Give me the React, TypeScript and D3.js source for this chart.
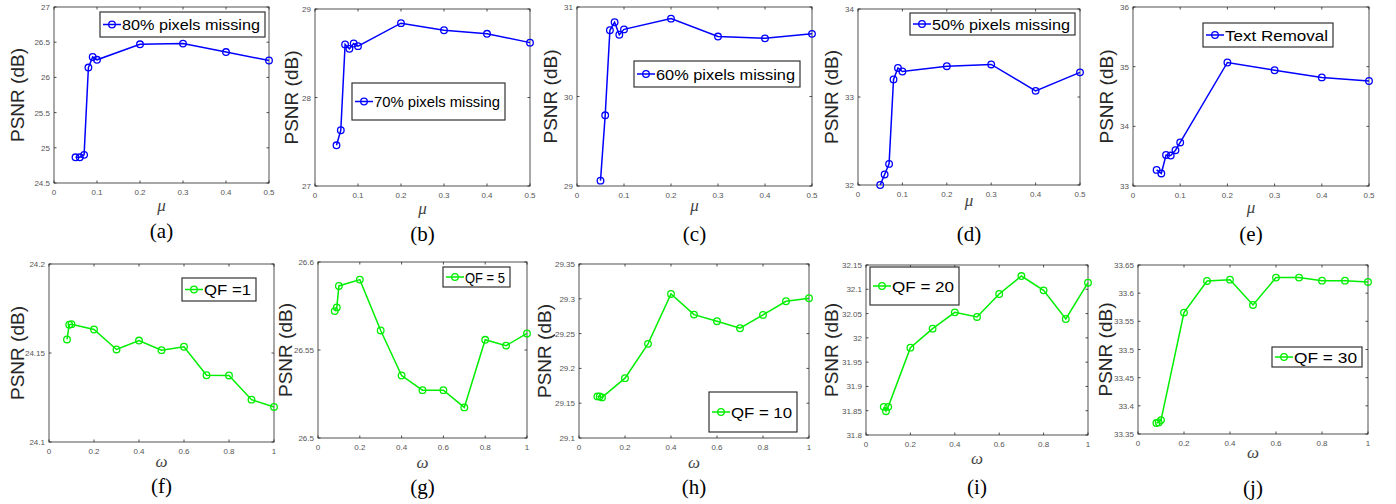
import React from 'react';
import * as d3 from 'd3';

// mu sweep (top row)
const muValues = [0.05, 0.06, 0.07, 0.08, 0.09, 0.1, 0.2, 0.3, 0.4, 0.5];
const psnr80 = [24.865, 24.865, 24.9, 26.14, 26.29, 26.25, 26.47, 26.48, 26.36, 26.24];
const psnr70 = [27.46, 27.63, 28.6, 28.55, 28.61, 28.58, 28.84, 28.76, 28.72, 28.62];
const psnr60 = [29.06, 29.79, 30.74, 30.83, 30.69, 30.75, 30.87, 30.67, 30.65, 30.7];
const psnr50 = [32.0, 32.12, 32.24, 33.2, 33.33, 33.29, 33.35, 33.37, 33.07, 33.28];
const psnrText = [33.27, 33.21, 33.52, 33.51, 33.6, 33.73, 35.07, 34.94, 34.82, 34.76];

// omega sweep (bottom row)
const omegaValues = [0.08, 0.09, 0.1, 0.2, 0.3, 0.4, 0.5, 0.6, 0.7, 0.8, 0.9, 1.0];
const psnrQF1 = [24.1576, 24.1659, 24.1662, 24.1632, 24.152, 24.157, 24.1516, 24.1535, 24.1375, 24.1374, 24.1238, 24.1197];
const psnrQF5 = [26.5721, 26.5742, 26.5864, 26.59, 26.5611, 26.5355, 26.5272, 26.5272, 26.5174, 26.5558, 26.5525, 26.5594];
const psnrQF10 = [29.1598, 29.1598, 29.1583, 29.186, 29.2353, 29.307, 29.2773, 29.2678, 29.2577, 29.2769, 29.2965, 29.3008];
const psnrQF20 = [31.858, 31.849, 31.858, 31.9798, 32.019, 32.0525, 32.043, 32.0903, 32.1273, 32.0978, 32.0388, 32.1136];
const psnrQF30 = [33.3694, 33.3706, 33.3747, 33.5655, 33.6217, 33.624, 33.5791, 33.6276, 33.6276, 33.6222, 33.6222, 33.6199];

// tick labels
const muTicks = [0, 0.1, 0.2, 0.3, 0.4, 0.5];
const omegaTicks = [0, 0.2, 0.4, 0.6, 0.8, 1];
const ticksA = [24.5, 25, 25.5, 26, 26.5, 27];
const ticksB = [27, 28, 29];
const ticksC = [29, 30, 31];
const ticksD = [32, 33, 34];
const ticksE = [33, 34, 35, 36];
const ticksF = [24.1, 24.15, 24.2];
const ticksG = [26.5, 26.55, 26.6];
const ticksH = [29.1, 29.15, 29.2, 29.25, 29.3, 29.35];
const ticksI = [31.8, 31.85, 31.9, 31.95, 32, 32.05, 32.1, 32.15];
const ticksJ = [33.35, 33.4, 33.45, 33.5, 33.55, 33.6, 33.65];

const legendNames = ['80% pixels missing', '70% pixels missing', '60% pixels missing', '50% pixels missing', 'Text Removal',
  'QF =1', 'QF = 5', 'QF = 10', 'QF = 20', 'QF = 30'];
const captions = ['(a)', '(b)', '(c)', '(d)', '(e)', '(f)', '(g)', '(h)', '(i)', '(j)'];

const BLUE = '#0000ff';
const GREEN = '#00ee00';

type Panel = {
  xs: number[]; ys: number[]; xTicks: number[]; yTicks: number[]; color: string; xlab: string;
  box: [number, number, number, number]; // left, right, top, bottom
  legend: [number, number, number, number]; // x, y, w, h
  ylabX: number; xlabY: number; capY: number;
};

const panels: Panel[] = [
  { xs: muValues, ys: psnr80, xTicks: muTicks, yTicks: ticksA, color: BLUE, xlab: 'μ', box: [54, 269, 7, 183], legend: [100, 12, 165, 25], ylabX: 17, xlabY: 206, capY: 238 },
  { xs: muValues, ys: psnr70, xTicks: muTicks, yTicks: ticksB, color: BLUE, xlab: 'μ', box: [315, 530, 9, 186], legend: [352, 83, 153, 37], ylabX: 291, xlabY: 209, capY: 241 },
  { xs: muValues, ys: psnr60, xTicks: muTicks, yTicks: ticksC, color: BLUE, xlab: 'μ', box: [577, 812, 7, 186], legend: [634, 61, 166, 26], ylabX: 550, xlabY: 206, capY: 241 },
  { xs: muValues, ys: psnr50, xTicks: muTicks, yTicks: ticksD, color: BLUE, xlab: 'μ', box: [858, 1080, 9, 185], legend: [910, 13, 165, 22], ylabX: 831, xlabY: 201, capY: 241 },
  { xs: muValues, ys: psnrText, xTicks: muTicks, yTicks: ticksE, color: BLUE, xlab: 'μ', box: [1133, 1369, 7, 186], legend: [1203, 23, 130, 24], ylabX: 1106, xlabY: 208, capY: 241 },
  { xs: omegaValues, ys: psnrQF1, xTicks: omegaTicks, yTicks: ticksF, color: GREEN, xlab: 'ω', box: [49, 274, 264, 442], legend: [182, 278, 74, 23], ylabX: 17, xlabY: 462, capY: 493 },
  { xs: omegaValues, ys: psnrQF5, xTicks: omegaTicks, yTicks: ticksG, color: GREEN, xlab: 'ω', box: [318, 527, 262, 438], legend: [443, 267, 67, 20], ylabX: 285, xlabY: 463, capY: 494 },
  { xs: omegaValues, ys: psnrQF10, xTicks: omegaTicks, yTicks: ticksH, color: GREEN, xlab: 'ω', box: [579, 809, 264, 438], legend: [709, 392, 88, 40], ylabX: 544, xlabY: 463, capY: 494 },
  { xs: omegaValues, ys: psnrQF20, xTicks: omegaTicks, yTicks: ticksI, color: GREEN, xlab: 'ω', box: [866, 1088, 265, 435], legend: [870, 267, 89, 38], ylabX: 831, xlabY: 459, capY: 494 },
  { xs: omegaValues, ys: psnrQF30, xTicks: omegaTicks, yTicks: ticksJ, color: GREEN, xlab: 'ω', box: [1138, 1368, 265, 434], legend: [1272, 347, 90, 20], ylabX: 1105, xlabY: 453, capY: 495 },
];

const fmt = d3.format('~g');
const AX = '#262626';

function Chart({ p, name, caption }: { p: Panel; name: string; caption: string }) {
  const [l, r, t, b] = p.box;
  const yd = d3.extent(p.yTicks) as [number, number];
  const xd = d3.extent(p.xTicks) as [number, number];
  const x = d3.scaleLinear().domain(xd).range([l, r]);
  const y = d3.scaleLinear().domain(yd).range([b, t]);
  const line = d3.line<number>().x((_, i) => x(p.xs[i])).y((d) => y(d));
  const tl = 2.5;
  const [lx, ly, lw, lh] = p.legend;
  const cy = ly + lh / 2;
  const cx = (l + r) / 2;
  return (
    <g>
      <rect x={l} y={t} width={r - l} height={b - t} fill="#fff" stroke={AX} strokeWidth={0.8} />
      {p.xTicks.map((v) => (
        <g key={'x' + v}>
          <line x1={x(v)} x2={x(v)} y1={b} y2={b - tl} stroke={AX} strokeWidth={0.8} />
          <line x1={x(v)} x2={x(v)} y1={t} y2={t + tl} stroke={AX} strokeWidth={0.8} />
          <text x={x(v)} y={b + 12} textAnchor="middle" fontSize={8} fill="#555">{fmt(v)}</text>
        </g>
      ))}
      {p.yTicks.map((v) => (
        <g key={'y' + v}>
          <line x1={l} x2={l + tl} y1={y(v)} y2={y(v)} stroke={AX} strokeWidth={0.8} />
          <line x1={r} x2={r - tl} y1={y(v)} y2={y(v)} stroke={AX} strokeWidth={0.8} />
          <text x={l - 4} y={y(v) + 3} textAnchor="end" fontSize={8} fill="#555">{fmt(v)}</text>
        </g>
      ))}
      <path d={line(p.ys) || ''} fill="none" stroke={p.color} strokeWidth={1.5} />
      {p.ys.map((v, i) => (
        <circle key={i} cx={x(p.xs[i])} cy={y(v)} r={3.3} fill="none" stroke={p.color} strokeWidth={1.3} />
      ))}
      <text transform={`translate(${p.ylabX},${(t + b) / 2}) rotate(-90)`} textAnchor="middle" dominantBaseline="central"
        fontSize={19} fill={AX}>PSNR (dB)</text>
      <text x={cx} y={p.xlabY + 5} textAnchor="middle" fontSize={17} fontStyle="italic"
        fontFamily="'Liberation Serif', serif" fill="#444">{p.xlab}</text>
      <text x={cx} y={p.capY} textAnchor="middle" fontSize={21} fontFamily="'Liberation Serif', 'Times New Roman', serif"
        fill="#000">{caption}</text>
      <g>
        <rect x={lx} y={ly} width={lw} height={lh} fill="#fff" stroke="#333" strokeWidth={1.2} />
        <line x1={lx + 3} x2={lx + 21} y1={cy} y2={cy} stroke={p.color} strokeWidth={1.5} />
        <circle cx={lx + 12} cy={cy} r={3.3} fill="none" stroke={p.color} strokeWidth={1.3} />
        <text x={lx + 22} y={cy} dominantBaseline="central" fontSize={15} fill="#000"
          textLength={lw - 27} lengthAdjust="spacingAndGlyphs" style={{ whiteSpace: 'pre' }}>{name}</text>
      </g>
    </g>
  );
}

export default function App() {
  return (
    <svg width={1396} height={504} style={{ position: 'absolute', left: 0, top: 0, fontFamily: "'Liberation Sans', Arial, sans-serif" }}>
      <rect width={1396} height={504} fill="#fff" />
      {panels.map((p, i) => (
        <Chart key={i} p={p} name={legendNames[i]} caption={captions[i]} />
      ))}
    </svg>
  );
}
